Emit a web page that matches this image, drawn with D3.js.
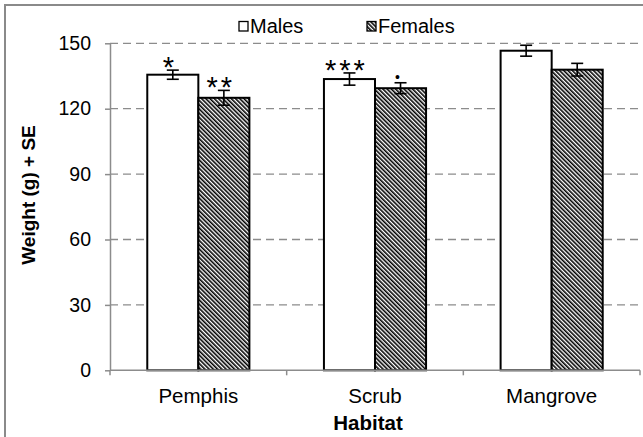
<!DOCTYPE html>
<html>
<head>
<meta charset="utf-8">
<script src="https://cdn.jsdelivr.net/npm/d3@7"></script>
<style>
  body { margin: 0; background: #fff; }
  svg { display: block; font-family: "Liberation Sans", Arial, sans-serif; }
</style>
</head>
<body>
<div id="chart"></div>
<script>
// data
const habitats = ["Pemphis", "Scrub", "Mangrove"];
const sexes = ["Males", "Females"];
const males = [135.6, 133.6, 146.6];
const females = [125.0, 129.4, 137.9];
const malesSE = [2.1, 2.8, 2.5];
const femalesSE = [3.4, 2.5, 2.9];
const maleMarks = ["*", "***", ""];
const femaleMarks = ["**", "•", ""];
const yTicks = [0, 30, 60, 90, 120, 150];

const W = 643, H = 437;
const plot = {left: 110, right: 640, top: 43.3, bottom: 370.3};

const svg = d3.select("#chart").append("svg")
    .attr("width", W)
    .attr("height", H);

// hatch for females
const defs = svg.append("defs");
const pat = defs.append("pattern")
    .attr("id", "hatch")
    .attr("patternUnits", "userSpaceOnUse")
    .attr("width", 3)
    .attr("height", 3)
    .attr("patternTransform", "rotate(-45)");
pat.append("rect").attr("width", 3).attr("height", 3).attr("fill", "#fff");
pat.append("rect").attr("width", 1.6).attr("height", 3).attr("fill", "#000");

// chart border
svg.append("rect")
    .attr("x", 5).attr("y", 5)
    .attr("width", 700).attr("height", 500)
    .attr("fill", "none")
    .attr("stroke", "#8a8a8a")
    .attr("stroke-width", 2);

const y = d3.scaleLinear().domain([0, 150]).range([plot.bottom, plot.top]);
const x0 = d3.scaleBand().domain(habitats).range([plot.left, plot.right]).padding(0);
const x1 = d3.scaleBand().domain(sexes).range([0, x0.bandwidth()]).paddingInner(0).paddingOuter(0.73);

// gridlines
svg.append("g")
    .selectAll("line")
    .data(yTicks.filter(d => d > 0))
    .join("line")
    .attr("x1", plot.left).attr("x2", plot.right)
    .attr("y1", d => y(d)).attr("y2", d => y(d))
    .attr("stroke", "#8c8c8c")
    .attr("stroke-width", 1.3)
    .attr("stroke-dasharray", "8,5");

// y axis
const yAxis = svg.append("g")
    .attr("transform", `translate(${plot.left},0)`)
    .call(d3.axisLeft(y).tickValues(yTicks).tickSize(5).tickPadding(14).tickSizeOuter(0));
yAxis.select(".domain").attr("stroke", "#8c8c8c").attr("stroke-width", 1.5);
yAxis.selectAll(".tick line").attr("stroke", "#8c8c8c").attr("stroke-width", 1.5);
yAxis.selectAll(".tick text")
    .attr("font-family", "Liberation Sans, Arial, sans-serif")
    .attr("font-size", 19.5)
    .attr("fill", "#000");

// bars
const rows = habitats.map((h, i) => [
    {h, s: "Males", v: males[i], se: malesSE[i], mark: maleMarks[i]},
    {h, s: "Females", v: females[i], se: femalesSE[i], mark: femaleMarks[i]}
]).flat();

const groups = svg.append("g");
groups.selectAll("rect")
    .data(rows)
    .join("rect")
    .attr("x", d => x0(d.h) + x1(d.s))
    .attr("y", d => y(d.v))
    .attr("width", x1.bandwidth())
    .attr("height", d => y(0) - y(d.v))
    .attr("fill", d => d.s === "Males" ? "#fff" : "url(#hatch)")
    .attr("stroke", "#000")
    .attr("stroke-width", 2);

// x axis
const xAxis = svg.append("g")
    .attr("transform", `translate(0,${plot.bottom})`);
xAxis.append("line")
    .attr("x1", plot.left).attr("x2", plot.right)
    .attr("stroke", "#8c8c8c").attr("stroke-width", 1.5);
xAxis.selectAll(".tk")
    .data(habitats.map(h => x0(h)).concat([plot.right]))
    .join("line")
    .attr("class", "tk")
    .attr("x1", d => d).attr("x2", d => d)
    .attr("y1", 0).attr("y2", 5)
    .attr("stroke", "#8c8c8c").attr("stroke-width", 1.5);
xAxis.selectAll(".lbl")
    .data(habitats)
    .join("text")
    .attr("class", "lbl")
    .attr("x", d => x0(d) + x0.bandwidth() / 2)
    .attr("y", 32.5)
    .attr("text-anchor", "middle")
    .attr("font-size", 20.5)
    .text(d => d);

// error bars
const eb = svg.append("g").attr("stroke", "#000").attr("stroke-width", 1.6);
rows.forEach(d => {
    const cx = x0(d.h) + x1(d.s) + x1.bandwidth() / 2;
    eb.append("line").attr("x1", cx).attr("x2", cx).attr("y1", y(d.v + d.se)).attr("y2", y(d.v - d.se));
    eb.append("line").attr("x1", cx - 6).attr("x2", cx + 6).attr("y1", y(d.v + d.se)).attr("y2", y(d.v + d.se));
    eb.append("line").attr("x1", cx - 6).attr("x2", cx + 6).attr("y1", y(d.v - d.se)).attr("y2", y(d.v - d.se));
});

// significance marks
const isDot = d => d.mark === "•";
svg.append("g")
    .selectAll("text")
    .data(rows.filter(d => d.mark))
    .join("text")
    .attr("x", d => x0(d.h) + x1(d.s) + x1.bandwidth() / 2 - 3)
    .attr("y", d => y(d.v + d.se) + (isDot(d) ? -1 : 7))
    .attr("text-anchor", "middle")
    .attr("font-size", d => isDot(d) ? 14 : 29)
    .attr("letter-spacing", d => isDot(d) ? 0 : 3)
    .text(d => d.mark);

// axis titles
svg.append("text")
    .attr("transform", `translate(35,195) rotate(-90)`)
    .attr("text-anchor", "middle")
    .attr("font-size", 19)
    .attr("font-weight", "bold")
    .text("Weight (g) + SE");

svg.append("text")
    .attr("x", 368)
    .attr("y", 430)
    .attr("text-anchor", "middle")
    .attr("font-size", 20.5)
    .attr("font-weight", "bold")
    .text("Habitat");

// legend
const legend = svg.append("g");
const legX = [239, 367];
sexes.forEach((s, i) => {
    legend.append("rect")
        .attr("x", legX[i]).attr("y", 21.5)
        .attr("width", 9).attr("height", 9.5)
        .attr("fill", s === "Males" ? "#fff" : "url(#hatch)")
        .attr("stroke", "#000").attr("stroke-width", 1.3);
    legend.append("text")
        .attr("x", legX[i] + 11).attr("y", 32.5)
        .attr("font-size", 20)
        .text(s);
});
</script>
</body>
</html>
